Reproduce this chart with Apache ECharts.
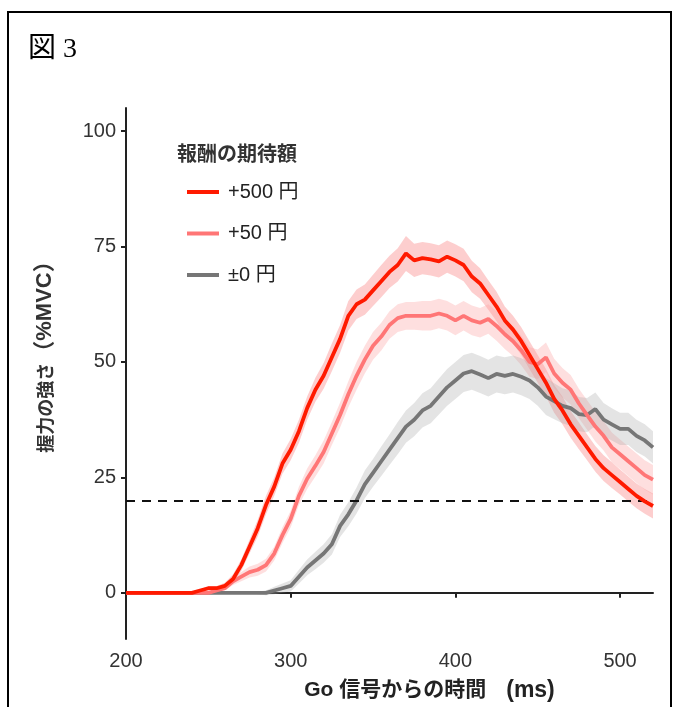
<!DOCTYPE html>
<html>
<head>
<meta charset="utf-8">
<title>図3</title>
<script src="https://cdn.jsdelivr.net/npm/echarts@6/dist/echarts.min.js"></script>
<style>
  html, body { margin: 0; padding: 0; background: #fff; }
  #chart { width: 677px; height: 707px; }
</style>
</head>
<body>
<div id="chart"></div>
<script>
// 時間 (ms)
var times = [200, 210, 220, 230, 240, 245, 250, 255, 260, 265, 270, 275, 280, 285, 290, 295,
  300, 305, 310, 315, 320, 325, 330, 335, 340, 345, 350, 355, 360, 365, 370, 375,
  380, 385, 390, 395, 400, 405, 410, 415, 420, 425, 430, 435, 440, 445, 450, 455,
  460, 465, 470, 475, 480, 485, 490, 495, 500, 505, 510, 515, 520]

// +500 円
var reward500 = [0, 0, 0, 0, 0, 0.5, 1, 1, 1.5, 3, 6, 10, 14, 19, 23, 28,
  31, 35, 40, 44, 47, 51, 55, 60, 62.5, 63.5, 65.5, 67.5, 69.5, 71, 73.5, 72,
  72.5, 72.2, 71.8, 72.8, 72, 71, 68.5, 67, 64.5, 62, 59, 57, 54.5, 51.5, 48.5, 45.5,
  42, 39.5, 36.5, 34, 31.5, 29, 27, 25.5, 24, 22.5, 21, 19.8, 18.8]
var err500 = [0, 0, 0, 0, 0, 0.3, 0.5, 0.5, 0.7, 1, 1.2, 1.5, 1.8, 2, 2, 2.2,
  2.3, 2.5, 2.5, 2.6, 2.8, 3, 3, 3.2, 3.2, 3.3, 3.4, 3.5, 3.5, 3.6, 3.8, 3.6,
  3.5, 3.5, 3.5, 3.5, 3.5, 3.5, 3.4, 3.3, 3.2, 3.2, 3, 3, 3, 3, 3, 3,
  3, 3, 2.9, 2.9, 2.8, 2.8, 2.8, 2.8, 2.7, 2.7, 2.7, 2.7, 2.7]

// +50 円
var reward50 = [0, 0, 0, 0, 0, 0, 0, 0.5, 1, 2.5, 3.5, 4.5, 5, 6, 8.5, 12.5,
  16, 21, 24.7, 27.5, 30.5, 34.5, 38.5, 43, 47, 50.5, 53.5, 55.5, 58, 59.5, 60, 60,
  60, 60, 60.5, 60, 59, 60, 59, 58.5, 59.3, 57.8, 56, 54.5, 52.5, 50, 49.5, 51,
  47.5, 45.5, 44, 41, 38.5, 36, 34, 31.5, 30, 28.5, 27, 25.5, 24.5]
var err50 = [0, 0, 0, 0, 0, 0, 0, 0.3, 0.5, 0.8, 1, 1.2, 1.3, 1.4, 1.5, 1.7,
  1.8, 2, 2.2, 2.3, 2.5, 2.5, 2.7, 2.8, 3, 3, 3, 3, 3, 3, 3, 3,
  3.2, 3.2, 3.2, 3.2, 3.2, 3.2, 3.2, 3.2, 3.2, 3.2, 3.2, 3.2, 3.2, 3.2, 3.2, 3.2,
  3.2, 3.2, 3.2, 3.2, 3.2, 3.2, 3.2, 3.2, 3.2, 3.2, 3.2, 3.2, 3.2]

// ±0 円
var reward0 = [0, 0, 0, 0, 0, 0, 0, 0, 0, 0, 0, 0, 0, 0, 0.5, 1,
  1.5, 3.5, 5.5, 7, 8.5, 10.5, 14.5, 17, 20, 23.5, 26, 28.5, 31, 33.5, 36, 37.5,
  39.5, 40.5, 42.5, 44.5, 46, 47.5, 48, 47.3, 46.5, 47.4, 47, 47.4, 46.8, 46, 44.5, 42.5,
  41.5, 40.5, 40, 38.7, 38.5, 39.8, 37.5, 36.5, 35.5, 35.5, 34, 33, 31.5]
var err0 = [0, 0, 0, 0, 0, 0, 0, 0, 0, 0, 0, 0, 0.3, 0.5, 0.8, 1,
  1.2, 1.5, 1.7, 1.9, 2, 2.2, 2.4, 2.6, 2.8, 3, 3, 3.2, 3.3, 3.5, 3.5, 3.6,
  3.7, 3.8, 3.9, 4, 4, 4, 4, 4, 4, 4, 4, 4, 4, 4, 4, 4,
  3.9, 3.8, 3.8, 3.7, 3.7, 3.6, 3.6, 3.5, 3.5, 3.5, 3.5, 3.5, 3.5]

var yTicks = [0, 25, 50, 75, 100]
var xTicks = [200, 300, 400, 500]
var threshold = 20

var groups = [
  { name: '+500 円', values: reward500, err: err500, color: '#ff1a00', band: 'rgba(250, 110, 110, 0.34)' },
  { name: '+50 円', values: reward50, err: err50, color: '#ff7676', band: 'rgba(252, 160, 160, 0.34)' },
  { name: '±0 円', values: reward0, err: err0, color: '#767676', band: 'rgba(170, 170, 170, 0.32)' }
]

// 帯 (平均 ± 誤差) は custom series の多角形で描く
function buildBands() {
  var list = []
  groups.forEach(function(g, k) {
    var rows = []
    times.forEach(function(t, i) {
      rows.push([t, g.values[i] - g.err[i], g.values[i] + g.err[i]])
    })
    list.push({
      name: 'band-' + k,
      type: 'custom',
      silent: true,
      data: rows,
      encode: { x: 0, y: [1, 2] },
      z: 1,
      renderItem: function(params, api) {
        if (params.dataIndex !== 0) return
        var upper = []
        var lower = []
        rows.forEach(function(r) {
          upper.push(api.coord([r[0], r[2]]))
          lower.unshift(api.coord([r[0], r[1]]))
        })
        return {
          type: 'polygon',
          shape: { points: upper.concat(lower) },
          style: { fill: g.band, stroke: 'none' }
        }
      }
    })
  })
  return list
}

function buildLines() {
  var list = []
  groups.forEach(function(g, k) {
    var pts = []
    times.forEach(function(t, i) {
      pts.push([t, g.values[i]])
    })
    var s = {
      name: g.name,
      type: 'line',
      data: pts,
      showSymbol: false,
      itemStyle: { color: g.color },
      lineStyle: { color: g.color, width: 3.8 },
      z: 3 + (2 - k)
    }
    if (k === 0) {
      s.markLine = {
        silent: true,
        symbol: 'none',
        label: { show: false },
        lineStyle: { color: '#111', type: [9, 7], width: 2 },
        data: [{ yAxis: threshold }]
      }
    }
    list.push(s)
  })
  return list
}

var chart = echarts.init(document.getElementById('chart'))
chart.setOption({
  animation: false,
  backgroundColor: '#fff',
  title: [
    {
      text: '図 3',
      left: 23,
      top: 31,
      textStyle: { fontFamily: 'Liberation Serif, Noto Sans CJK JP', fontSize: 28, fontWeight: 'normal', color: '#000' }
    },
    {
      text: '報酬の期待額',
      left: 172,
      top: 138,
      textStyle: { fontFamily: 'Noto Sans CJK JP', fontSize: 20, fontWeight: 'bold', color: '#333' }
    }
  ],
  graphic: [
    {
      type: 'rect',
      shape: { x: 8, y: 12, width: 663, height: 720 },
      style: { fill: 'none', stroke: '#000', lineWidth: 2 }
    }
  ],
  legend: {
    data: groups.map(function(g) { return g.name }),
    orient: 'vertical',
    left: 182,
    top: 177,
    icon: 'rect',
    itemWidth: 32,
    itemHeight: 4,
    itemGap: 21.5,
    textStyle: { fontFamily: 'Liberation Sans, Noto Sans CJK JP', fontSize: 20, color: '#222', padding: [0, 0, 0, 4] }
  },
  grid: { left: 126, right: 24, top: 108, bottom: 66 },
  xAxis: {
    type: 'value',
    min: 200,
    max: 520,
    interval: 100,
    name: '{a|Go 信号からの時間}      {b|(ms)}',
    nameLocation: 'middle',
    nameGap: 40,
    nameTextStyle: {
      padding: [0, 0, 0, 80],
      rich: {
        a: { fontFamily: 'Liberation Sans, Noto Sans CJK JP', fontSize: 21, fontWeight: 'bold', color: '#222' },
        b: { fontFamily: 'Liberation Sans', fontSize: 23, fontWeight: 'bold', color: '#222' }
      }
    },
    axisLine: { lineStyle: { color: '#222', width: 2 } },
    axisTick: { customValues: xTicks, length: 5, lineStyle: { color: '#222', width: 2 } },
    axisLabel: { customValues: xTicks, margin: 12, fontFamily: 'Liberation Sans', fontSize: 20, color: '#333' },
    splitLine: { show: false }
  },
  yAxis: {
    type: 'value',
    min: -10,
    max: 105,
    name: '{c|握力の強さ}{l|（%MVC）}',
    nameLocation: 'middle',
    nameRotate: 90,
    nameGap: 70,
    nameTextStyle: {
      padding: [0, 0, 0, 44],
      rich: {
        c: { fontFamily: 'Noto Sans CJK JP', fontSize: 18, fontWeight: 'bold', color: '#333' },
        l: { fontFamily: 'Liberation Sans, Noto Sans CJK JP', fontSize: 22, fontWeight: 'bold', color: '#333' }
      }
    },
    axisLine: { show: true, lineStyle: { color: '#222', width: 2 } },
    axisTick: { show: true, customValues: yTicks, length: 5, lineStyle: { color: '#222', width: 2 } },
    axisLabel: { customValues: yTicks, margin: 10, fontFamily: 'Liberation Sans', fontSize: 20, color: '#333' },
    splitLine: { show: false }
  },
  series: buildBands().concat(buildLines())
})
</script>
</body>
</html>
